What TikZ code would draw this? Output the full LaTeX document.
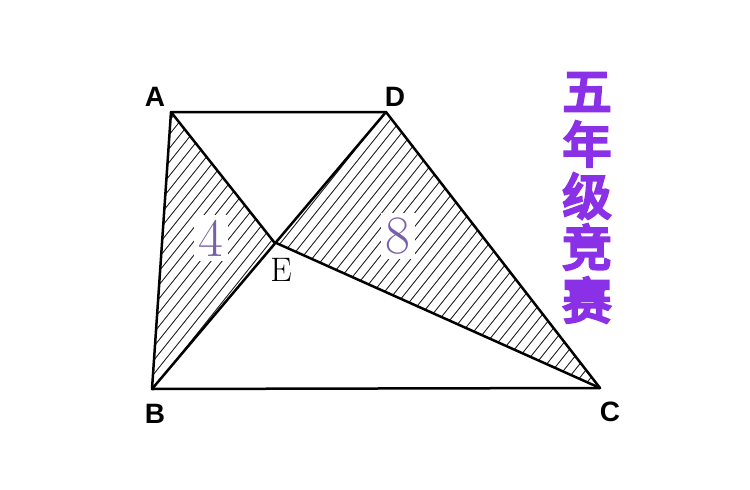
\documentclass[tikz,border=0pt]{standalone}
\usepackage{fontspec}
\newfontfamily\labfont{Liberation Sans}
\newfontfamily\cjk[FakeBold=6]{Noto Sans CJK SC}
\definecolor{numcol}{RGB}{120,95,170}
\definecolor{titlecol}{RGB}{138,48,230}
\begin{document}
\begin{tikzpicture}[x=1pt,y=-1pt,
  edge/.style={line width=2.5pt,line join=round,line cap=round},
  hatch/.style={line width=0.9pt,black!85},
  vlabel/.style={font=\labfont\bfseries\fontsize{28}{28}\selectfont},
  numlabel/.style={font=\fontsize{54}{54}\selectfont,text=numcol,fill=white,inner sep=5pt},
  titlechar/.style={font=\cjk\fontsize{49}{49}\selectfont,text=titlecol}]
\useasboundingbox (0,0) rectangle (750,490);
\coordinate (A) at (171,112);
\coordinate (D) at (386,112);
\coordinate (E) at (274,242);
\coordinate (B) at (152,389);
\coordinate (C) at (600,388);
% hatching
\begin{scope}
  \clip (A) -- (E) -- (B) -- cycle;
  \foreach \i in {-400,-389,...,700} \draw[hatch] (\i,420) -- ++(320,-400);
\end{scope}
\begin{scope}
  \clip (D) -- (E) -- (C) -- cycle;
  \foreach \i in {-400,-389,...,900} \draw[hatch] (\i,420) -- ++(320,-400);
\end{scope}
% numbers
\node[numlabel] (n4) at (211,238) {4};
\node[numlabel] (n8) at (398,236) {8};
% edges
\draw[edge] (A) -- (D) -- (C) -- (B) -- cycle;
\draw[edge] (A) -- (E) -- (C);
\draw[edge] (B) -- (D);
% labels
\node[vlabel] (lA) at (155,97) {A};
\node[vlabel] (lD) at (395,97) {D};
\node[vlabel] (lB) at (155,414) {B};
\node[vlabel] (lC) at (610,412) {C};
\node[font=\fontsize{34}{34}\selectfont] (lE) at (281,270) {E};
% title
\node[titlechar] (t1) at (587,92) {五};
\node[titlechar] (t2) at (587,144) {年};
\node[titlechar] (t3) at (587,196) {级};
\node[titlechar] (t4) at (587,247) {竞};
\node[titlechar] (t5) at (587,300) {赛};
\end{tikzpicture}
\end{document}
